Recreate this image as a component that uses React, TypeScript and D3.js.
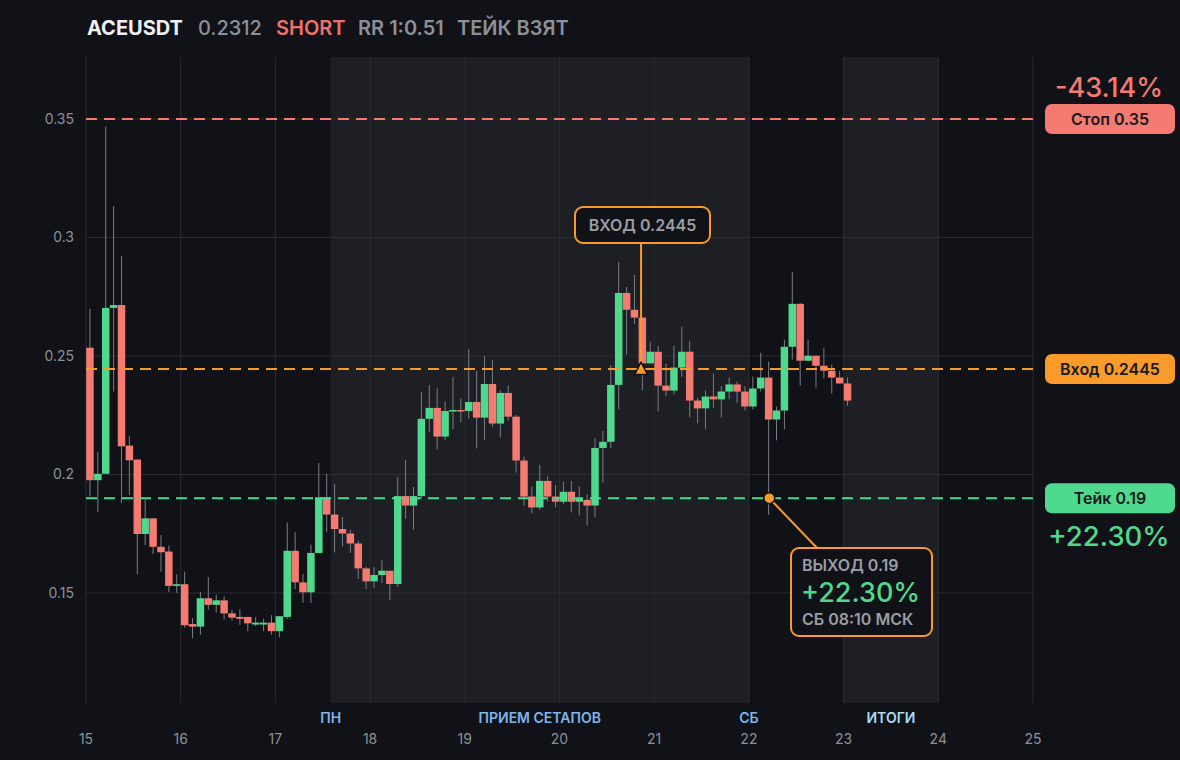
import React, { useEffect } from "react";
import * as d3 from "d3";

// ---- DATA ----
const symbol = "ACEUSDT";
const lastPrice = "0.2312";
const side = "SHORT";
const rrText = "RR 1:0.51";
const statusText = "ТЕЙК ВЗЯТ";

const startDay = 15; // first candle time (day of month, UTC)
const candleHours = 2;

const opens = [
  0.2535, 0.1976, 0.2003, 0.2703, 0.2715, 0.2122, 0.2063, 0.1749, 0.1815, 0.1695, 0.1675, 0.153,
  0.1537, 0.1369, 0.1358, 0.1478, 0.145, 0.1469, 0.1414, 0.1399, 0.1399, 0.1367, 0.1367, 0.1375,
  0.1339, 0.1399, 0.1678, 0.1545, 0.1503, 0.1669, 0.1904, 0.1831, 0.177, 0.1751, 0.1709, 0.1604,
  0.1549, 0.1576, 0.1594, 0.1538, 0.1909, 0.1869, 0.1909, 0.2235, 0.2281, 0.216, 0.2266, 0.2272,
  0.2268, 0.2306, 0.224, 0.2382, 0.2215, 0.2344, 0.2244, 0.2059, 0.1907, 0.1861, 0.1973, 0.1907,
  0.1885, 0.1927, 0.1885, 0.1893, 0.1869, 0.2112, 0.2138, 0.2378, 0.2766, 0.2695, 0.2662, 0.2469,
  0.2518, 0.2375, 0.2354, 0.2451, 0.2518, 0.2312, 0.2279, 0.2329, 0.2317, 0.235, 0.238, 0.235,
  0.2287, 0.2363, 0.2409, 0.2232, 0.227, 0.2539, 0.272, 0.248, 0.2501, 0.2459, 0.2438, 0.2409,
  0.2384,
];
const highs = [
  0.2699, 0.2096, 0.3468, 0.3132, 0.2921, 0.2161, 0.2063, 0.1895, 0.1815, 0.1744, 0.17, 0.1579,
  0.159, 0.1394, 0.1504, 0.1567, 0.1493, 0.1486, 0.1429, 0.1432, 0.1399, 0.1399, 0.1391, 0.1406,
  0.1402, 0.1798, 0.1756, 0.1581, 0.1704, 0.2048, 0.2003, 0.1961, 0.182, 0.1767, 0.1721, 0.161,
  0.161, 0.164, 0.1594, 0.199, 0.2062, 0.1947, 0.2348, 0.2378, 0.2364, 0.2308, 0.2412, 0.2322,
  0.2529, 0.2437, 0.25, 0.2483, 0.2357, 0.2374, 0.2251, 0.2076, 0.195, 0.2041, 0.1992, 0.1956,
  0.1969, 0.1973, 0.195, 0.1916, 0.2154, 0.2184, 0.2462, 0.2896, 0.2791, 0.2842, 0.2662, 0.256,
  0.2543, 0.2468, 0.2543, 0.2623, 0.2564, 0.2324, 0.2354, 0.2426, 0.2373, 0.2409, 0.2392, 0.2373,
  0.2413, 0.2514, 0.2476, 0.2287, 0.2569, 0.2854, 0.2724, 0.2569, 0.2501, 0.2535, 0.2464, 0.2438,
  0.2409,
];
const lows = [
  0.1907, 0.1842, 0.2003, 0.235, 0.188, 0.1913, 0.1579, 0.1702, 0.1665, 0.159, 0.1504, 0.15,
  0.1354, 0.1309, 0.1324, 0.1429, 0.1418, 0.1388, 0.1384, 0.1366, 0.1339, 0.1361, 0.1339, 0.1324,
  0.1313, 0.1391, 0.1516, 0.1458, 0.1458, 0.1669, 0.1756, 0.1671, 0.1697, 0.1669, 0.1559, 0.1517,
  0.1521, 0.1542, 0.1469, 0.1525, 0.1813, 0.1767, 0.19, 0.2181, 0.2107, 0.2146, 0.2192, 0.2219,
  0.2235, 0.211, 0.2146, 0.2202, 0.2156, 0.2228, 0.2008, 0.1868, 0.1837, 0.1851, 0.1886, 0.1861,
  0.1874, 0.184, 0.1827, 0.1785, 0.1819, 0.1966, 0.211, 0.2275, 0.2506, 0.2636, 0.2356, 0.2468,
  0.2266, 0.2331, 0.2338, 0.2412, 0.2241, 0.2216, 0.2191, 0.2279, 0.2241, 0.2317, 0.2303, 0.227,
  0.2275, 0.235, 0.1829, 0.2144, 0.2191, 0.2485, 0.2375, 0.248, 0.2367, 0.2405, 0.2342, 0.2384,
  0.2291,
];
const closes = [
  0.1976, 0.2003, 0.2703, 0.2715, 0.2119, 0.206, 0.1749, 0.1815, 0.1695, 0.1672, 0.153, 0.1537,
  0.1364, 0.1358, 0.1478, 0.145, 0.1469, 0.1414, 0.1396, 0.1391, 0.1372, 0.1375, 0.1375, 0.1339,
  0.1402, 0.1678, 0.1545, 0.1503, 0.1669, 0.1904, 0.1831, 0.177, 0.1751, 0.1709, 0.1604, 0.1549,
  0.1576, 0.1594, 0.1538, 0.1909, 0.1869, 0.1909, 0.2235, 0.2281, 0.216, 0.2268, 0.2272, 0.2266,
  0.2306, 0.224, 0.2382, 0.2215, 0.2344, 0.2244, 0.2059, 0.1907, 0.1861, 0.1973, 0.1907, 0.1885,
  0.1927, 0.1885, 0.1899, 0.1869, 0.2112, 0.2138, 0.2378, 0.2766, 0.2695, 0.2662, 0.2469, 0.2518,
  0.2375, 0.2354, 0.2451, 0.2518, 0.2312, 0.2279, 0.2329, 0.2317, 0.235, 0.238, 0.235, 0.2287,
  0.2363, 0.2409, 0.2232, 0.227, 0.2539, 0.272, 0.248, 0.2501, 0.2459, 0.2438, 0.2409, 0.2384,
  0.2312,
];

const yTicks = [0.15, 0.2, 0.25, 0.3, 0.35];
const yTickLabels = ["0.15", "0.2", "0.25", "0.3", "0.35"];
const xTicks = [15, 16, 17, 18, 19, 20, 21, 22, 23, 24, 25];

const stopPrice = 0.35;
const entryPrice = 0.2445;
const takePrice = 0.19;
const stopPct = "-43.14%";
const takePct = "+22.30%";
const stopLabel = "Стоп 0.35";
const entryLabel = "Вход 0.2445";
const takeLabel = "Тейк 0.19";

const entryTime = 20 + 20.67 / 24;
const exitTime = 22 + 5.1667 / 24;
const entryBoxText = "ВХОД 0.2445";
const exitBoxLines = ["ВЫХОД 0.19", "+22.30%", "СБ 08:10 МСК"];

const zoneStarts = [17 + 14 / 24, 23];
const zoneEnds = [22, 24];
const zoneLabels = ["ПН", "ПРИЕМ СЕТАПОВ", "СБ", "ИТОГИ"];
const zoneLabelAt = [17 + 14 / 24, (17 + 14 / 24 + 22) / 2, 22, 23.5];

// ---- STYLE ----
const W = 1180;
const H = 760;
const BG = "#111217";
const ZONE = "#1e1f24";
const GRID = "#2a2b31";
const UP = "#4fd98e";
const DOWN = "#f47a72";
const ORANGE = "#f99b2a";
const MUTED = "#8c9099";
const FONT = "Inter, 'Noto Sans', sans-serif";

export default function App() {
  useEffect(() => {
    document.body.style.margin = "0";
    document.body.style.background = BG;
  }, []);

  const left = 86;
  const right = 1033;
  const top = 57;
  const bottom = 703;

  const x = d3.scaleLinear().domain([15, 25]).range([left, right]);
  const y = d3
    .scaleLinear()
    .domain([0.15, 0.35])
    .range([593, 119]);

  const step = 1 / (24 / candleHours);
  const candles = opens.map((o, i) => ({
    t: startDay + i * step,
    o,
    h: highs[i],
    l: lows[i],
    c: closes[i],
  }));

  const ex = x(entryTime);
  const ey = y(entryPrice);
  const xx = x(exitTime);
  const xy = y(takePrice);

  const pillX = 1045;
  const pillW = 130;
  const pillH = 30;

  const levels = [
    { p: stopPrice, color: DOWN, label: stopLabel },
    { p: entryPrice, color: ORANGE, label: entryLabel },
    { p: takePrice, color: UP, label: takeLabel },
  ];

  return (
    <svg width={W} height={H} style={{ display: "block", background: BG }} fontFamily={FONT}>
      <rect x={0} y={0} width={W} height={H} fill={BG} />
      {/* zones */}
      {zoneStarts.map((s, i) => (
        <rect key={"z" + i} x={x(s)} y={top} width={x(zoneEnds[i]) - x(s)} height={bottom - top} fill={ZONE} />
      ))}
      {/* grid */}
      {xTicks.map((t) => (
        <line key={"gx" + t} x1={x(t)} x2={x(t)} y1={top} y2={bottom} stroke={GRID} strokeWidth={1} />
      ))}
      {yTicks.map((v) => (
        <line key={"gy" + v} x1={left} x2={right} y1={y(v)} y2={y(v)} stroke={GRID} strokeWidth={1} />
      ))}
      {/* y tick labels */}
      {yTicks.map((v, i) => (
        <text key={"ty" + v} x={74} y={y(v)} dy="0.35em" textAnchor="end" fontSize={14} fill={MUTED}>
          {yTickLabels[i]}
        </text>
      ))}
      {/* x tick labels */}
      {xTicks.map((t) => (
        <text key={"tx" + t} x={x(t)} y={739} dy="0.35em" textAnchor="middle" fontSize={14} fill={MUTED}>
          {t}
        </text>
      ))}
      {/* zone labels */}
      {zoneLabels.map((l, i) => (
        <text
          key={"zl" + i}
          x={x(zoneLabelAt[i])}
          y={718}
          dy="0.35em"
          textAnchor="middle"
          fontSize={14}
          fontWeight={600}
          fill={i === 3 ? "#a9dcf5" : "#7fb5ee"}
        >
          {l}
        </text>
      ))}
      {/* candles */}
      {candles.map((d, i) => {
        const x0 = x(d.t);
        const x1 = x(d.t + step);
        const cx = (x0 + x1) / 2;
        const up = d.c >= d.o;
        const yt = y(Math.max(d.o, d.c));
        const yb = y(Math.min(d.o, d.c));
        return (
          <g key={"c" + i}>
            <line x1={cx} x2={cx} y1={y(d.h)} y2={y(d.l)} stroke="#7a7e87" strokeWidth={1} />
            <rect x={x0 + 0.2} y={yt} width={x1 - x0 - 0.4} height={Math.max(yb - yt, 1.5)} fill={up ? UP : DOWN} />
          </g>
        );
      })}
      {/* level lines */}
      {levels.map((lv, i) => (
        <line
          key={"lv" + i}
          x1={left}
          x2={right}
          y1={y(lv.p)}
          y2={y(lv.p)}
          stroke={lv.color}
          strokeWidth={2}
          strokeDasharray="11 7"
        />
      ))}
      {/* right pills */}
      {levels.map((lv, i) => (
        <g key={"pl" + i}>
          <rect x={pillX} y={y(lv.p) - pillH / 2} width={pillW} height={pillH} rx={7} fill={lv.color} />
          <text
            x={pillX + pillW / 2}
            y={y(lv.p)}
            dy="0.35em"
            textAnchor="middle"
            fontSize={16}
            fontWeight={600}
            fill="#18191d"
          >
            {lv.label}
          </text>
        </g>
      ))}
      <text x={1109} y={y(stopPrice) - 31} dy="0.35em" textAnchor="middle" fontSize={27} fontWeight={500} fill={DOWN}>
        {stopPct}
      </text>
      <text x={1109} y={y(takePrice) + 38} dy="0.35em" textAnchor="middle" fontSize={27.5} fontWeight={500} fill={UP}>
        {takePct}
      </text>

      {/* entry annotation */}
      <line x1={ex} x2={ex} y1={243} y2={ey - 7} stroke={ORANGE} strokeWidth={2} />
      <path
        d={`M${ex},${ey - 7} L${ex + 6.5},${ey + 5.5} L${ex - 6.5},${ey + 5.5} Z`}
        fill={ORANGE}
        stroke={BG}
        strokeWidth={1.5}
        strokeLinejoin="round"
      />
      <rect x={575} y={207} width={135} height={36} rx={8} fill={BG} stroke={ORANGE} strokeWidth={2} />
      <text x={642.5} y={225} dy="0.35em" textAnchor="middle" fontSize={16} fontWeight={600} fill="#9a9da6">
        {entryBoxText}
      </text>

      {/* exit annotation */}
      <line x1={xx} x2={817} y1={xy} y2={548} stroke={ORANGE} strokeWidth={2} />
      <circle cx={xx} cy={xy} r={5.5} fill={ORANGE} stroke={BG} strokeWidth={1.5} />
      <rect x={791} y={548} width={141} height={88} rx={8} fill={BG} stroke={ORANGE} strokeWidth={2} />
      <text x={802} y={565} dy="0.35em" fontSize={16} fontWeight={600} fill="#9a9da6">
        {exitBoxLines[0]}
      </text>
      <text x={801} y={593} dy="0.35em" fontSize={27} fontWeight={500} fill={UP}>
        {exitBoxLines[1]}
      </text>
      <text x={802} y={619} dy="0.35em" fontSize={16} fontWeight={600} fill="#9a9da6">
        {exitBoxLines[2]}
      </text>

      {/* header */}
      <text x={87} y={28} dy="0.35em" fontSize={20} fontWeight={700} fill="#eef0f4">
        {symbol}
      </text>
      <text x={198} y={28} dy="0.35em" fontSize={20} fontWeight={500} fill={MUTED}>
        {lastPrice}
      </text>
      <text x={276} y={28} dy="0.35em" fontSize={20} fontWeight={600} fill="#f0706c">
        {side}
      </text>
      <text x={358} y={28} dy="0.35em" fontSize={20} fontWeight={600} fill={MUTED}>
        {rrText}
      </text>
      <text x={457} y={28} dy="0.35em" fontSize={20} fontWeight={600} fill={MUTED}>
        {statusText}
      </text>
    </svg>
  );
}
